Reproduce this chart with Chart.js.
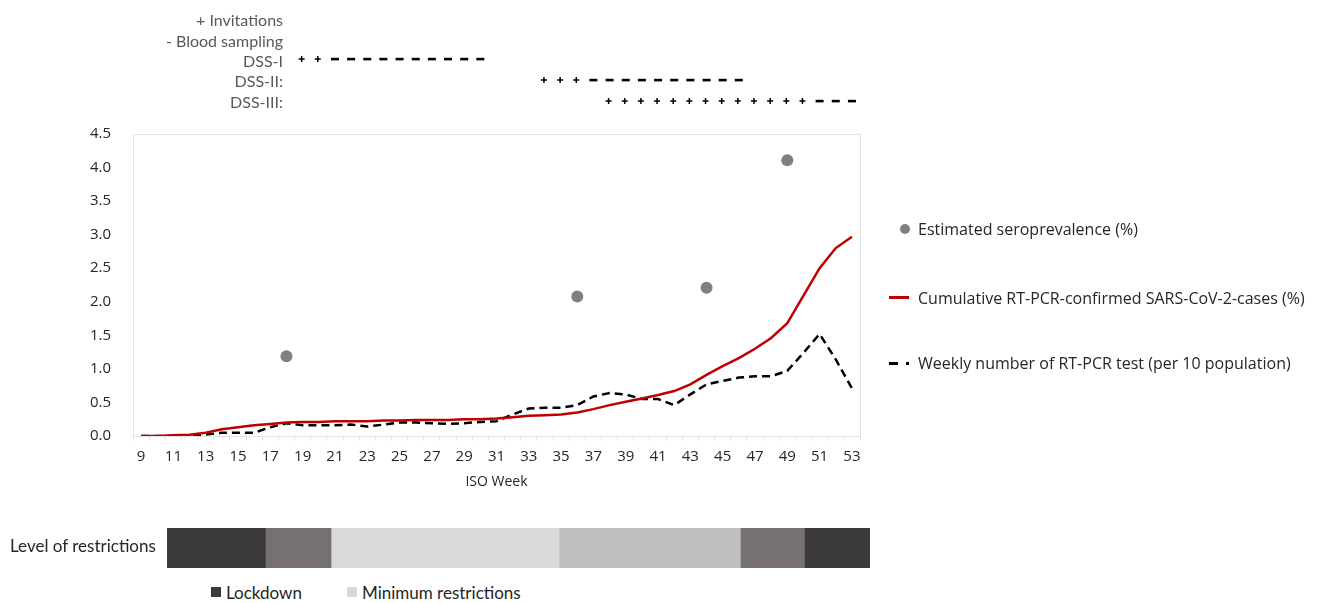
<!DOCTYPE html>
<html>
<head>
<meta charset="utf-8">
<script src="https://cdn.jsdelivr.net/npm/chart.js@4.4.0/dist/chart.umd.min.js"></script>
<style>
body{margin:0;background:#fff;}
#wrap{position:relative;width:1325px;height:603px;overflow:hidden;font-family:Lato,sans-serif;}
canvas{position:absolute;left:0;}
.t{position:absolute;white-space:nowrap;transform:translateY(-50%);}
.top{right:1042px;font-size:16px;color:#595959;text-align:right;}
.leg{left:918px;font-family:"Open Sans",sans-serif;font-size:16px;color:#262626;}
.sw{position:absolute;}
</style>
</head>
<body>
<div id="wrap">
  <canvas id="main" width="1325" height="496" style="top:0"></canvas>
  <canvas id="bar" width="1325" height="56" style="top:520px"></canvas>

  <div class="t top" style="top:19px">+ Invitations</div>
  <div class="t top" style="top:40px">- Blood sampling</div>
  <div class="t top" style="top:60px">DSS-I</div>
  <div class="t top" style="top:80px">DSS-II:</div>
  <div class="t top" style="top:101px">DSS-III:</div>

  <div class="sw" style="left:900px;top:224px;width:10px;height:10px;border-radius:50%;background:#808080"></div>
  <div class="t leg" style="top:229px">Estimated seroprevalence (%)</div>
  <div class="sw" style="left:889px;top:296px;width:20px;height:2.5px;background:#c00000"></div>
  <div class="t leg" style="top:298px">Cumulative RT-PCR-confirmed SARS-CoV-2-cases (%)</div>
  <div class="sw" style="left:889px;top:362px;width:9px;height:2.5px;background:#000"></div>
  <div class="sw" style="left:906px;top:362px;width:3px;height:2.5px;background:#000"></div>
  <div class="t leg" style="top:363px">Weekly number of RT-PCR test (per 10 population)</div>

  <div class="t" style="left:10px;top:545px;font-size:17px;color:#262626">Level of restrictions</div>
  <div class="sw" style="left:211px;top:587px;width:10px;height:10px;background:#3b3a38"></div>
  <div class="t" style="left:226px;top:592px;font-size:17px;color:#262626">Lockdown</div>
  <div class="sw" style="left:347px;top:587px;width:10px;height:10px;background:#d9d9d9"></div>
  <div class="t" style="left:362px;top:592px;font-size:17px;color:#262626">Minimum restrictions</div>
</div>
<script>
// ISO weeks on the x axis
const weeks = ['9','10','11','12','13','14','15','16','17','18','19','20','21','22','23','24','25','26','27','28','29','30','31',
  '32','33','34','35','36','37','38','39','40','41','42','43','44','45','46','47','48','49','50','51','52','53'];

// cumulative RT-PCR confirmed cases (%)
const cumCases = [0,0,0.01,0.02,0.05,0.1,0.13,0.16,0.18,0.2,0.21,0.21,0.22,0.22,0.22,0.23,0.23,0.24,0.24,0.24,0.25,0.25,0.26,
  0.28,0.3,0.31,0.32,0.35,0.4,0.46,0.51,0.56,0.61,0.67,0.77,0.91,1.04,1.16,1.3,1.46,1.68,2.09,2.5,2.8,2.97];

// weekly number of RT-PCR tests (per 10 population)
const weeklyTests = [0,0,0,0.01,0.02,0.05,0.05,0.05,0.13,0.19,0.16,0.16,0.16,0.17,0.14,0.17,0.2,0.2,0.19,0.18,0.19,0.21,0.22,
  0.32,0.41,0.42,0.42,0.46,0.59,0.64,0.62,0.55,0.55,0.46,0.62,0.77,0.82,0.87,0.89,0.89,0.97,1.24,1.52,1.14,0.71];

// seroprevalence estimates
const seroWeeks = ['18','36','44','49'];
const seroValues = [1.19,2.08,2.21,4.11];

// DSS rounds: invitation weeks (+) and blood sampling weeks (-)
const dssInvite = [['19','20'], ['34','35','36'], ['38','39','40','41','42','43','44','45','46','47','48','49','50']];
const dssSample = [['21','22','23','24','25','26','27','28','29','30'],
  ['37','38','39','40','41','42','43','44','45','46'],
  ['51','52','53']];
const dssRowY = [59, 80, 101];

// level of restrictions, duration of each period in weeks
const restrictionLevels = ['Lockdown','Partial','Minimum restrictions','Moderate','Partial','Lockdown'];
const restrictionWeeks = [6.3,4.2,14.6,11.6,4.1,4.2];
const restrictionColors = ['#3b3a38','#767170','#d9d9d9','#bfbfbf','#767170','#3b3a38'];

const overlay = {
  id:'overlay',
  beforeDatasetsDraw(chart){
    const a = chart.chartArea, c = chart.ctx;
    c.save();
    c.strokeStyle = '#e3e3e3'; c.lineWidth = 1;
    c.strokeRect(a.left+0.5, a.top+0.5, a.right-a.left, a.bottom-a.top);
    c.restore();
  },
  afterDraw(chart){
    const x = chart.scales.x, c = chart.ctx;
    c.save();
    c.fillStyle = '#000'; c.strokeStyle = '#000'; c.lineWidth = 1.5;
    dssRowY.forEach((y, r) => {
      dssInvite[r].forEach(w => {
        const px = x.getPixelForValue(weeks.indexOf(w)) - 1;
        c.beginPath();
        c.moveTo(px-3, y); c.lineTo(px+3, y);
        c.moveTo(px, y-3); c.lineTo(px, y+3);
        c.stroke();
      });
      dssSample[r].forEach(w => {
        const px = x.getPixelForValue(weeks.indexOf(w));
        c.fillRect(px-4, y-1.2, 8, 2.6);
      });
    });
    c.restore();
  }
};

const font = {family:'"Open Sans", sans-serif', size:15};

new Chart(document.getElementById('main'), {
  type:'line',
  data:{
    labels: weeks,
    datasets:[
      { label:'Estimated seroprevalence (%)', data: seroWeeks.map((w,i)=>({x:w, y:seroValues[i]})),
        showLine:false, pointRadius:6, pointHoverRadius:6, pointBackgroundColor:'#808080', pointBorderWidth:0, order:0 },
      { label:'Cumulative RT-PCR-confirmed SARS-CoV-2-cases (%)', data: cumCases,
        borderColor:'#c00000', borderWidth:2.5, pointRadius:0, tension:0, order:1 },
      { label:'Weekly number of RT-PCR test (per 10 population)', data: weeklyTests,
        borderColor:'#000', borderWidth:2.5, borderDash:[8,5], pointRadius:0, tension:0, order:2 }
    ]
  },
  options:{
    responsive:false, animation:false,
    layout:{ padding:{ top:134, right:465, left:0, bottom:0 } },
    plugins:{ legend:{display:false}, tooltip:{enabled:false} },
    scales:{
      x:{
        offset:true,
        grid:{ drawOnChartArea:false, drawTicks:true, tickLength:5, color:'#e3e3e3', offset:true },
        border:{ display:false },
        ticks:{ autoSkip:false, maxRotation:0, padding:7, color:'#262626', font,
          callback:(v,i)=> i % 2 === 0 ? weeks[i] : '' },
        title:{ display:true, text:'ISO Week', color:'#262626', font:{family:'"Open Sans", sans-serif', size:14},
          padding:{top:0, bottom:6} },
        afterFit(s){ s.height = 60; }
      },
      y:{
        min:0, max:4.5,
        grid:{ display:false },
        border:{ display:false },
        ticks:{ stepSize:0.5, padding:14, color:'#262626', font, callback:v=>v.toFixed(1) },
        afterFit(s){ s.width = 133; }
      }
    }
  },
  plugins:[overlay]
});

new Chart(document.getElementById('bar'), {
  type:'bar',
  data:{
    labels:[''],
    datasets: restrictionLevels.map((lvl,i)=>({
      label: lvl, data:[restrictionWeeks[i]], backgroundColor: restrictionColors[i],
      borderWidth:0, barPercentage:1, categoryPercentage:1
    }))
  },
  options:{
    indexAxis:'y', responsive:false, animation:false,
    layout:{ padding:{ left:167, right:455, top:8, bottom:8 } },
    plugins:{ legend:{display:false}, tooltip:{enabled:false} },
    scales:{
      x:{ stacked:true, min:0, max:45, display:false },
      y:{ stacked:true, display:false }
    }
  }
});
</script>
</body>
</html>
